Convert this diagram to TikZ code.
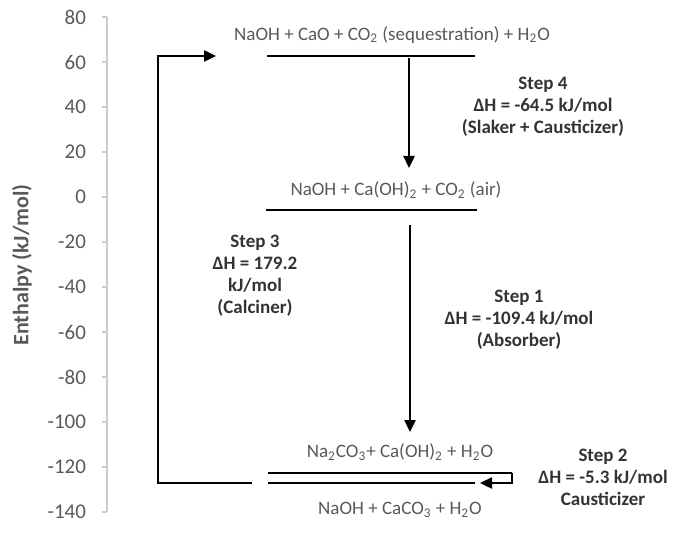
\documentclass[tikz,border=0pt]{standalone}
\usepackage{fontspec}
\setmainfont{Carlito}
\usetikzlibrary{arrows.meta}

\begin{document}
\begin{tikzpicture}[x=0.5pt,y=-0.5pt,
    level/.style={line width=1.3pt},
    flow/.style={line width=1.2pt,-{Triangle[length=6pt,width=5.5pt]}},
    chem/.style={text=black!65,font=\fontsize{9.5}{11}\selectfont},
    steptext/.style={text=black!80,align=center,font=\fontsize{9.5}{11}\selectfont\bfseries},
    ticklbl/.style={text=black!65,anchor=east,font=\fontsize{10.5}{12}\selectfont}]

    \useasboundingbox (0,0) rectangle (673,550);

    % enthalpy axis
    \draw[black!20,line width=0.6pt] (107,17) -- (107,512);
    \foreach \v [count=\i from 0] in {80,60,...,-140}{
        \draw[black!20,line width=0.6pt] (102,17+45*\i) -- (107,17+45*\i);
        \node[ticklbl] (tick\i) at (93,17+45*\i) {\v};
    }
    \node[rotate=90,text=black!65,font=\fontsize{11}{13}\selectfont\bfseries] (ytitle) at (22,265) {Enthalpy (kJ/mol)};

    % energy levels
    \coordinate (topL) at (267,56);  \coordinate (topR) at (475,56);
    \coordinate (midL) at (266,210); \coordinate (midR) at (477,210);
    \coordinate (lowL) at (268,473); \coordinate (lowR) at (512,473);
    \coordinate (botL) at (268,483); \coordinate (botR) at (475,483);
    \draw[level] (topL) -- (topR);
    \draw[level] (midL) -- (midR);
    \draw[level] (lowL) -- (lowR);
    \draw[level] (botL) -- (botR);

    \node[chem] (topchem) at (392,35) {NaOH + CaO + CO\textsubscript{2} (sequestration) + H\textsubscript{2}O};
    \node[chem] (midchem) at (396,190) {NaOH + Ca(OH)\textsubscript{2} + CO\textsubscript{2} (air)};
    \node[chem] (lowchem) at (400,452) {Na\textsubscript{2}CO\textsubscript{3}+ Ca(OH)\textsubscript{2} + H\textsubscript{2}O};
    \node[chem] (botchem) at (400,510) {NaOH + CaCO\textsubscript{3} + H\textsubscript{2}O};

    % steps
    \coordinate (s4from) at (409,58);  \coordinate (s4to) at (409,168);
    \coordinate (s1from) at (410,225); \coordinate (s1to) at (410,432);
    \coordinate (s3from) at (252,483); \coordinate (s3turn) at (158,56); \coordinate (s3to) at (216,56);
    \coordinate (s2to) at (480,483);
    \draw[flow] (s4from) -- (s4to);
    \draw[flow] (s1from) -- (s1to);
    \draw[flow] (s3from) -| (s3turn) -- (s3to);
    \draw[flow] (lowR) |- (s2to);

    \node[steptext] (step4) at (543,107) {Step 4\\ΔH = -64.5 kJ/mol\\(Slaker + Causticizer)};
    \node[steptext] (step3) at (255,276) {Step 3\\ΔH = 179.2\\kJ/mol\\(Calciner)};
    \node[steptext] (step1) at (519,320) {Step 1\\ΔH = -109.4 kJ/mol\\(Absorber)};
    \node[steptext] (step2) at (603,477) {Step 2\\ΔH = -5.3 kJ/mol\\Causticizer};

\end{tikzpicture}
\end{document}
